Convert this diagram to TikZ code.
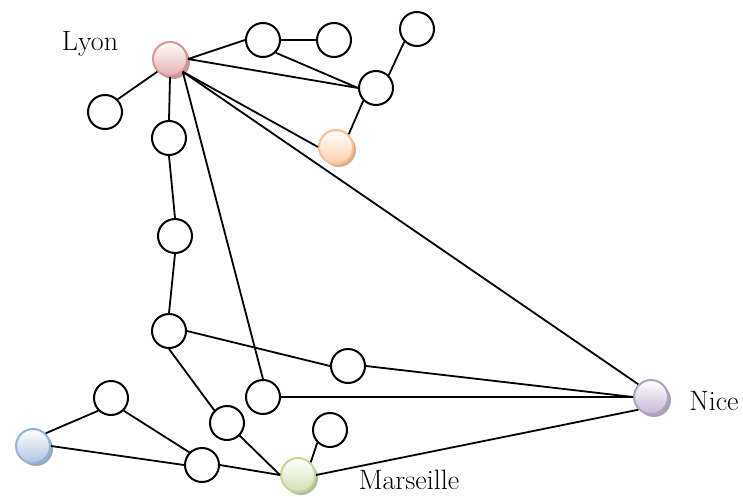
\documentclass[tikz,border=0pt]{standalone}
\usepackage{tikz}
\usetikzlibrary{shadows}
\definecolor{lyonc}{RGB}{217,150,148}
\definecolor{orangec}{RGB}{250,192,143}
\definecolor{bluec}{RGB}{149,179,215}
\definecolor{greenc}{RGB}{195,214,155}
\definecolor{nicec}{RGB}{178,161,199}

\begin{document}
\begin{tikzpicture}[x=1pt,y=-1pt,font=\fontsize{28}{32}\selectfont,
  v/.style={circle,draw,line width=2pt,minimum size=34pt,inner sep=0pt,fill=white},
  city/.style={circle,draw=#1,line width=2pt,minimum size=34pt,inner sep=0pt,top color=white,bottom color=#1!75,
    drop shadow={shadow xshift=3pt,shadow yshift=-3pt,fill=#1!75!black,opacity=0.7}},
  e/.style={line width=1.8pt}]
\useasboundingbox (0,0) rectangle (743,497);
% cities
\node[city=lyonc] (lyon) at (170,59) {};
\node[city=orangec] (o) at (336,147) {};
\node[city=bluec] (b) at (33,446) {};
\node[city=greenc] (mars) at (298,475) {};
\node[city=nicec] (nice) at (651,397) {};
\node (tl) at (90,44) {Lyon};
\node (tn) at (714,401) {Nice};
\node (tm) at (409,480) {Marseille};
% other stops
\node[v] (a1) at (263,40) {};
\node[v] (a2) at (334,40) {};
\node[v] (a3) at (417,29) {};
\node[v] (a4) at (376,88) {};
\node[v] (a5) at (105,112) {};
\node[v] (a6) at (169,138) {};
\node[v] (a7) at (175,236) {};
\node[v] (a8) at (169,331) {};
\node[v] (a9) at (348,366) {};
\node[v] (a10) at (263,397) {};
\node[v] (a11) at (111,398) {};
\node[v] (a12) at (227,423) {};
\node[v] (a13) at (330,430) {};
\node[v] (a14) at (202,465) {};
% lines
\draw[e] (lyon.east)--(a1.west) (a1)--(a2) (a1.south east)--(a4.west) (lyon.east)--(a4.west)
  (a4.north east)--(a3.south west) (a4.south west)--(o.north east) (lyon.south east)--(o.west);
\draw[e] (lyon.south west)--(a5.north east) (lyon.south)--(a6.north) (lyon.south east)--(a10.north)
  (lyon.south east)--(nice.north west);
\draw[e] (a6.south)--(a7.north) (a7.south)--(a8.north) (a8.east)--(a9.west) (a9.east)--(nice.west)
  (a8.south)--(a12.north west) (a12.south east)--(mars.west);
\draw[e] (a10.east)--(nice.west) (b.north east)--(a11.south west) (a11.south east)--(a14.north west)
  (b.east)--(a14.west) (a14.east)--(mars.west) (a13.south west)--(mars.north east) (mars.east)--(nice.south west);
\end{tikzpicture}
\end{document}
